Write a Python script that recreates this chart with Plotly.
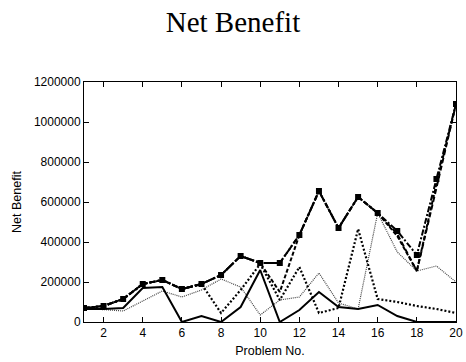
import plotly.graph_objects as go

problems = list(range(1, 21))

# dash-dot with square markers (top series)
series_a = [70000, 80000, 115000, 190000, 210000, 165000, 190000, 235000, 330000, 295000,
            295000, 435000, 655000, 470000, 625000, 545000, 455000, 335000, 715000, 1090000]
# thick dashed
series_b = [70000, 80000, 115000, 190000, 210000, 165000, 190000, 235000, 330000, 295000,
            150000, 435000, 655000, 470000, 625000, 545000, 430000, 255000, 690000, 1090000]
# second dashed
series_c = [70000, 80000, 115000, 190000, 210000, 165000, 190000, 235000, 330000, 295000,
            295000, 435000, 655000, 470000, 625000, 545000, 440000, 255000, 670000, 1090000]
# thick dotted
series_d = [70000, 80000, 115000, 190000, 210000, 165000, 190000, 45000, 160000, 290000,
            110000, 275000, 45000, 70000, 465000, 115000, 100000, 80000, 65000, 45000]
# solid
series_e = [65000, 65000, 70000, 170000, 175000, 0, 30000, 0, 75000, 260000,
            0, 60000, 150000, 75000, 65000, 85000, 30000, 0, 0, 0]
# thin dotted
series_f = [65000, 62000, 55000, 105000, 155000, 125000, 160000, 215000, 175000, 35000,
            110000, 125000, 245000, 95000, 65000, 545000, 350000, 255000, 280000, 200000]

fig = go.Figure()
fig.add_trace(go.Scatter(x=problems, y=series_f, mode="lines",
                         line=dict(color="#444444", width=1.2, dash="1px,1px")))
fig.add_trace(go.Scatter(x=problems, y=series_e, mode="lines",
                         line=dict(color="black", width=2, dash="solid")))
fig.add_trace(go.Scatter(x=problems, y=series_d, mode="lines",
                         line=dict(color="black", width=2.2, dash="2px,2px")))
fig.add_trace(go.Scatter(x=problems, y=series_c, mode="lines",
                         line=dict(color="black", width=2, dash="5px,3px")))
fig.add_trace(go.Scatter(x=problems, y=series_b, mode="lines",
                         line=dict(color="black", width=2, dash="4px,2px")))
fig.add_trace(go.Scatter(x=problems, y=series_a, mode="lines+markers",
                         line=dict(color="black", width=2, dash="6px,2px,2px,2px"),
                         marker=dict(symbol="square", size=6, color="black")))

axis_common = dict(showline=True, linecolor="black", linewidth=1, mirror="allticks",
                   ticks="inside", ticklen=5, tickcolor="black", showgrid=False,
                   zeroline=False, automargin=False,
                   tickfont=dict(family="Liberation Sans, Arial", size=12, color="black"))

fig.update_layout(
    width=466, height=362,
    margin=dict(l=84, r=10, t=82, b=40),
    paper_bgcolor="white", plot_bgcolor="white",
    showlegend=False,
    title=dict(text="Net Benefit", x=0.5, xanchor="center", y=0.94, yanchor="middle",
               font=dict(family="Liberation Serif, Times New Roman", size=29, color="black")),
    xaxis=dict(range=[1, 20], tickvals=list(range(2, 21, 2)),
               title=dict(text="Problem No.", standoff=6,
                          font=dict(family="Liberation Sans, Arial", size=12.5, color="black")),
               **axis_common),
    yaxis=dict(range=[0, 1200000], tickvals=list(range(0, 1200001, 200000)), tickformat="d",
               title=dict(text="Net Benefit", standoff=9,
                          font=dict(family="Liberation Sans, Arial", size=12.5, color="black")),
               **axis_common),
)

fig.write_html("out.html")
